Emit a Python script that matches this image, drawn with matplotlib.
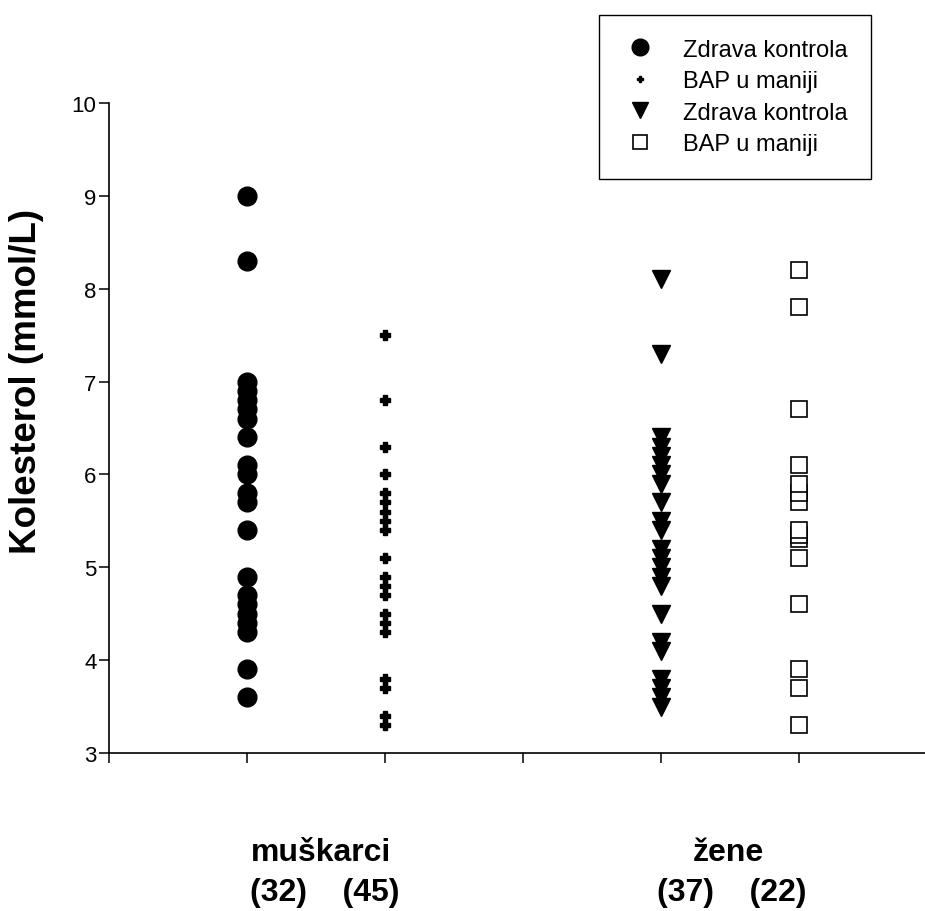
import matplotlib
matplotlib.use('Agg')
import matplotlib.pyplot as plt
from matplotlib.lines import Line2D
import numpy as np

plt.rcParams['font.family'] = ['Liberation Sans', 'DejaVu Sans']

# kolesterol (mmol/L) po skupinama, ocitano sa slike
muskarci_kontrola = [9.0, 8.3, 7.0, 6.9, 6.8, 6.7, 6.6, 6.4, 6.1, 6.0, 5.8, 5.7,
                     5.4, 4.9, 4.7, 4.6, 4.5, 4.4, 4.3, 3.9, 3.6]
muskarci_bap = [7.5, 6.8, 6.3, 6.0, 5.8, 5.7, 5.6, 5.5, 5.4, 5.1, 4.9, 4.8,
                4.7, 4.5, 4.4, 4.3, 3.8, 3.7, 3.4, 3.3]
zene_kontrola = [8.1, 7.3, 6.4, 6.3, 6.2, 6.1, 6.0, 5.9, 5.7, 5.5, 5.4, 5.2,
                 5.1, 5.0, 4.9, 4.8, 4.5, 4.2, 4.1, 3.8, 3.7, 3.6, 3.5]
zene_bap = [8.2, 7.8, 6.7, 6.1, 5.9, 5.8, 5.7, 5.4, 5.35, 5.3, 5.1, 4.6,
            3.9, 3.7, 3.3]

group_x = [1, 2, 4, 5]
labels = ['Zdrava kontrola', 'BAP u maniji', 'Zdrava kontrola', 'BAP u maniji']
groups = ['muškarci', 'žene']
counts = [[32, 45], [37, 22]]

fig = plt.figure(figsize=(9.25, 9.12), dpi=100)
ax = fig.add_axes([109/925, 1-754/912, 828/925, 650/912])

ax.plot([group_x[0]]*len(muskarci_kontrola), muskarci_kontrola, 'o', color='black',
        markersize=13.5, linestyle='none')
ax.plot([group_x[1]]*len(muskarci_bap), muskarci_bap, 'P', color='black',
        markersize=6.5, linestyle='none')
ax.plot([group_x[2]]*len(zene_kontrola), zene_kontrola, 'v', color='black',
        markersize=13, linestyle='none')
zb = np.sort(zene_bap)
for v in zb:
    ax.plot([group_x[3]], [v], 's', markerfacecolor='white', markeredgecolor='black',
            markeredgewidth=1.2, markersize=11.5, linestyle='none')

ax.set_xlim(0, 6)
ax.set_ylim(3, 10)
ax.set_xticks(range(0, 7))
ax.set_xticklabels([])
ax.set_yticks(range(3, 11))
ax.tick_params(axis='both', direction='out', length=7, width=1.1, labelsize=16, pad=2)
for s in ['top', 'right']:
    ax.spines[s].set_visible(False)
for s in ['left', 'bottom']:
    ax.spines[s].set_linewidth(1.2)

fig.text(27/925, 1-381/912, 'Kolesterol (mmol/L)', rotation=90, ha='center',
         va='center', fontsize=26.5, fontweight='bold')

fig.text(321/925, 1-853/912, groups[0], ha='center', va='center', fontsize=23,
         fontweight='bold')
fig.text(325/925, 1-893/912, '(%d)    (%d)' % tuple(counts[0]), ha='center',
         va='center', fontsize=23, fontweight='bold')
fig.text(728/925, 1-853/912, groups[1], ha='center', va='center', fontsize=23,
         fontweight='bold')
fig.text(732/925, 1-893/912, '(%d)    (%d)' % tuple(counts[1]), ha='center',
         va='center', fontsize=23, fontweight='bold')

handles = [
    Line2D([], [], marker='o', color='black', markersize=12, linestyle='none'),
    Line2D([], [], marker='P', color='black', markersize=4.5, linestyle='none'),
    Line2D([], [], marker='v', color='black', markersize=12, linestyle='none'),
    Line2D([], [], marker='s', markerfacecolor='white', markeredgecolor='black',
           markersize=10, markeredgewidth=1.2, linestyle='none'),
]
leg = fig.legend(handles, labels, loc='upper left',
                 bbox_to_anchor=(599/925, 1-16/912), fontsize=17, frameon=True,
                 fancybox=False, edgecolor='black', framealpha=1,
                 handlelength=1.5, handletextpad=1.05, labelspacing=0.4,
                 borderpad=1.0, borderaxespad=0)
leg.get_frame().set_linewidth(1.0)

plt.savefig('out.png', dpi=100)
